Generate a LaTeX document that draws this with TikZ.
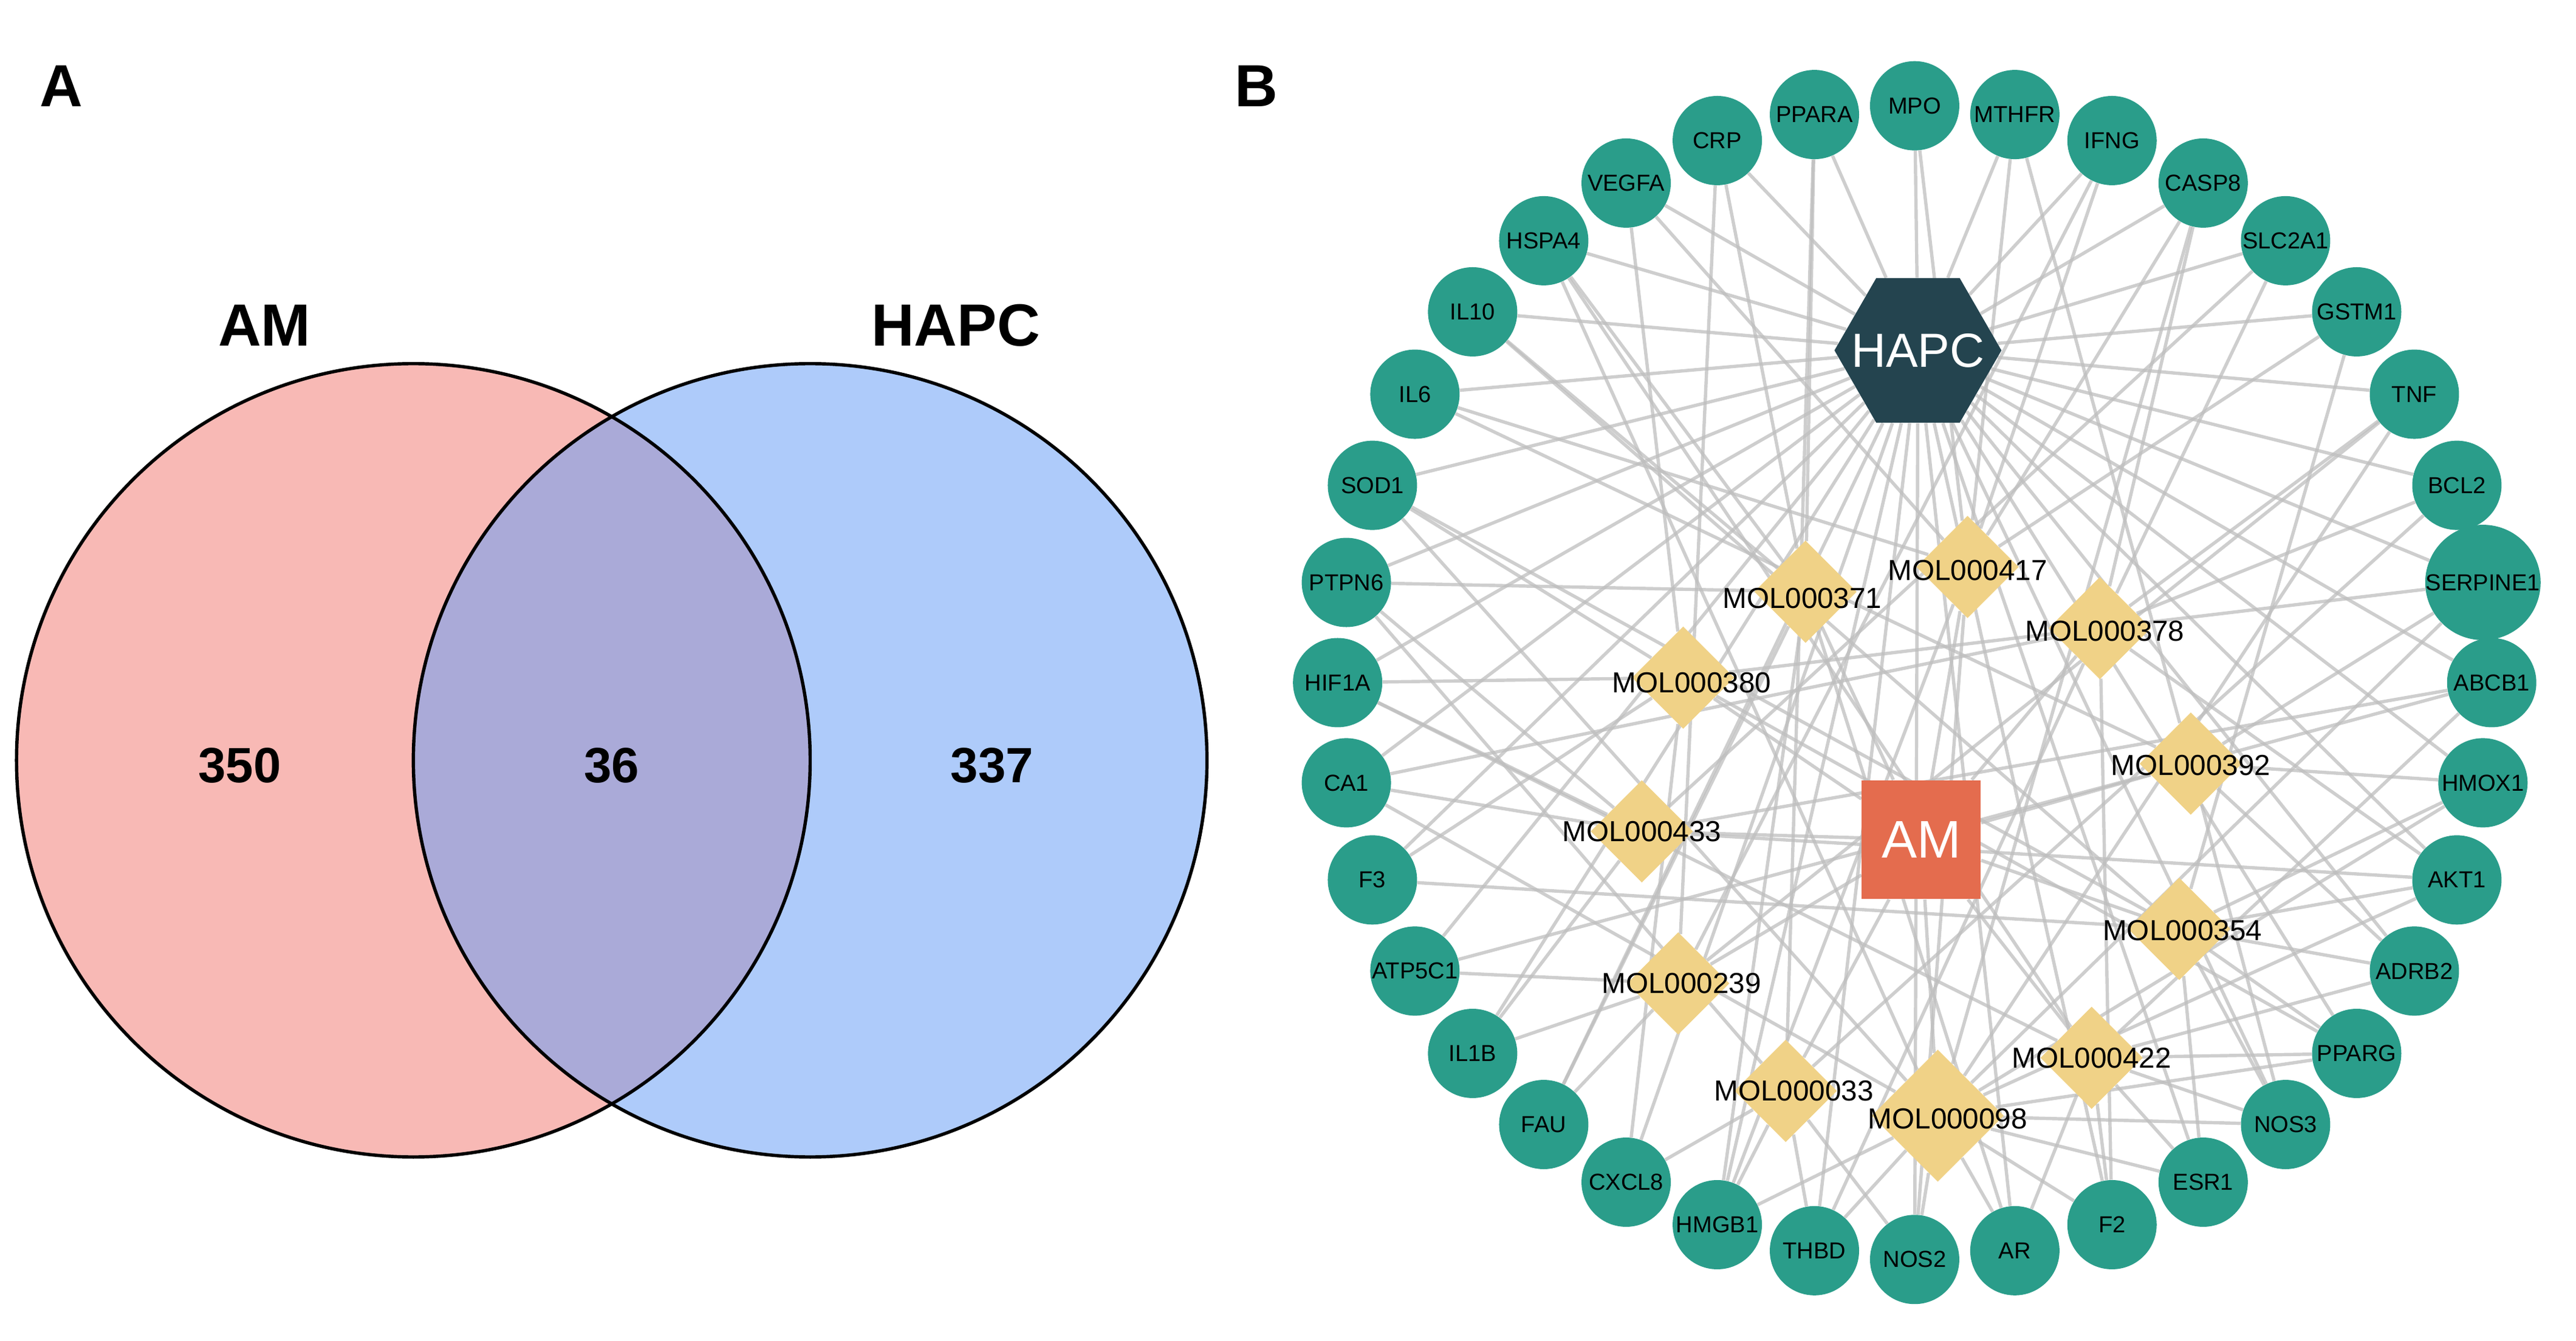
\documentclass[tikz,border=0pt]{standalone}
\usepackage{fontspec}
\setmainfont{Liberation Sans}
\usetikzlibrary{shapes.geometric,backgrounds,calc}
\definecolor{amColor}{RGB}{248,185,181}
\definecolor{hapcColor}{RGB}{174,203,250}
\definecolor{bothColor}{RGB}{170,170,216}
\definecolor{targetColor}{RGB}{42,157,138}
\definecolor{molColor}{RGB}{240,210,135}
\definecolor{hubColor}{RGB}{36,68,79}
\definecolor{herbColor}{RGB}{228,108,78}
\definecolor{edgeColor}{RGB}{190,190,190}

\begin{document}
\begin{tikzpicture}[x=1pt,y=-1pt,
target/.style={
    circle, fill=targetColor, minimum size=54pt, inner sep=0pt, font=\fontsize{14}{14}\selectfont
},
mol/.style={
    diamond, fill=molColor, minimum size=62pt, inner sep=0pt
},
molLabel/.style={
    font=\fontsize{17.5}{17.5}\selectfont
},
link/.style={
    edgeColor, line width=2pt, opacity=0.75
},
setNum/.style={
    font=\fontsize{30}{30}\selectfont\bfseries
}]

\useasboundingbox (0,0) rectangle (1558,811);

% Panel A
\begin{scope}
    \clip (250,460) circle (240);
    \fill[amColor] (250,460) circle (240);
\end{scope}
\fill[hapcColor] (490,460) circle (240);
\begin{scope}
    \clip (250,460) circle (240);
    \fill[bothColor] (490,460) circle (240);
\end{scope}
\draw[line width=2pt] (250,460) circle (240);
\draw[line width=2pt] (490,460) circle (240);
\node[font=\fontsize{36}{36}\selectfont\bfseries] (labelA) at (37,52) {A};
\node[font=\fontsize{36}{36}\selectfont\bfseries] (setAM) at (160,197) {AM};
\node[font=\fontsize{36}{36}\selectfont\bfseries] (setHAPC) at (578,197) {HAPC};
\node[setNum] (onlyAM) at (145,463) {350};
\node[setNum] (common) at (370,463) {36};
\node[setNum] (onlyHAPC) at (600,463) {337};

% Panel B
\node[font=\fontsize{36}{36}\selectfont\bfseries] (labelB) at (760,52) {B};

% Targets
\foreach \name [count=\i from 0] in {MPO, MTHFR, IFNG, CASP8, SLC2A1, GSTM1, TNF, BCL2,
        SERPINE1, ABCB1, HMOX1, AKT1, ADRB2, PPARG, NOS3, ESR1, F2, AR, NOS2, THBD,
        HMGB1, CXCL8, FAU, IL1B, ATP5C1, F3, CA1, HIF1A, PTPN6, SOD1, IL6, IL10,
        HSPA4, VEGFA, CRP, PPARA}
    \node[target] (t\i) at ($(1158,413)+({-90+10*\i}:349)$) {\name};

% Hubs
\node[regular polygon, regular polygon sides=6, fill=hubColor, minimum size=101pt,
    inner sep=0pt] (hapc) at (1160,212) {};
\node[text=white, font=\fontsize{29}{29}\selectfont] (hapcLabel) at (hapc) {HAPC};
\node[fill=herbColor, minimum size=72pt, inner sep=0pt, text=white,
    font=\fontsize{32}{32}\selectfont] (am) at (1162,508) {AM};

% Compounds
\foreach \id/\px/\py in {417/1190/343, 371/1092/358, 378/1270/380, 380/1018/410,
        392/1325/462, 433/993/503, 354/1318/562, 239/1015/595, 422/1265/640, 033/1080/660}
    \node[mol] (m\id) at (\px,\py) {};
\node[mol, minimum size=80pt] (m098) at (1172,675) {};
\foreach \id/\px/\py in {417/1190/345, 371/1090/362, 378/1273/382, 380/1023/413,
        392/1325/463, 433/993/503, 354/1320/563, 239/1017/595, 422/1265/640,
        033/1085/660, 098/1178/677}
    \node[molLabel] (m\id label) at (\px,\py) {MOL000\id};

% Edges
\begin{scope}[on background layer]
    \foreach \i in {0,...,35}
        \draw[link] (hapc) -- (t\i);
    \foreach \id in {417,371,378,380,392,433,354,239,422,033,098}
        \draw[link] (am) -- (m\id);
    \foreach \id/\list in {417/{0,1,2,3,5,30,33,18,20}, 371/{34,35,32,31,28,20,22,17},
            378/{4,6,7,11,16,19,3,26}, 380/{29,27,25,8,13,21,33},
            392/{8,9,10,12,14,24,30,1}, 433/{26,27,28,23,9,11,4},
            354/{10,11,12,13,14,15,25,29,5,31}, 239/{24,23,22,6,2,34},
            422/{12,13,14,15,16,17,27,32,9}, 033/{21,20,19,18,7,28,35},
            098/{13,14,15,16,17,18,19,20,10,11,26,29,32,3,6,8}}
        \foreach \j in \list
            \draw[link] (m\id) -- (t\j);
\end{scope}

\end{tikzpicture}
\end{document}
